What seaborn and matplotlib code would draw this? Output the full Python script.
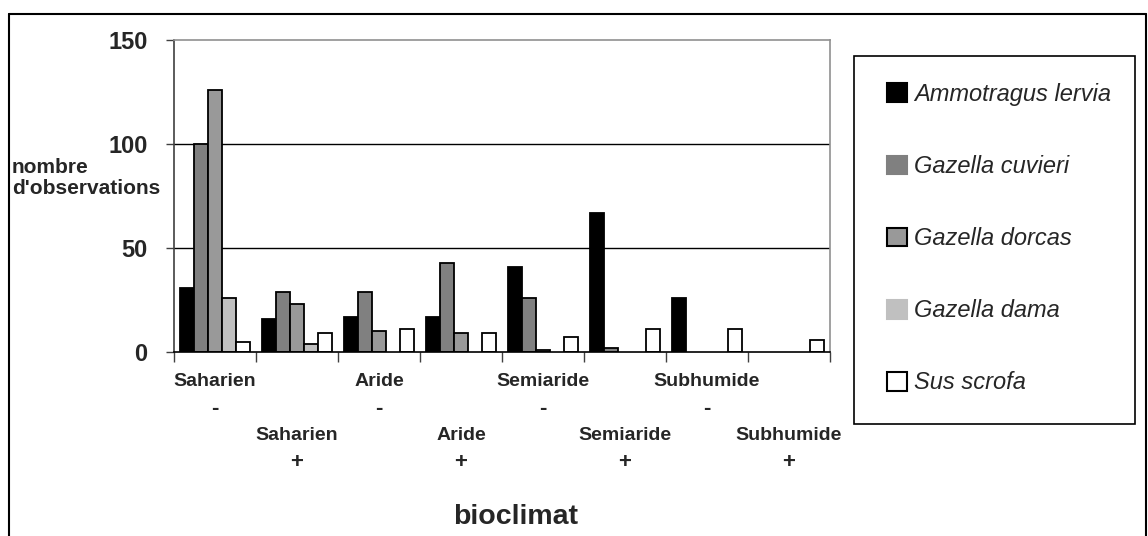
import numpy as np
import pandas as pd
import matplotlib
matplotlib.use("Agg")
import matplotlib.pyplot as plt
import matplotlib.transforms as mtransforms
from matplotlib.patches import Rectangle
from matplotlib.lines import Line2D
import seaborn as sns

categories = ["Saharien -", "Saharien +", "Aride -", "Aride +",
              "Semiaride -", "Semiaride +", "Subhumide -", "Subhumide +"]
tick_names = ["Saharien", "Saharien", "Aride", "Aride",
              "Semiaride", "Semiaride", "Subhumide", "Subhumide"]
tick_signs = ["-", "+", "-", "+", "-", "+", "-", "+"]
species = ["Ammotragus lervia", "Gazella cuvieri", "Gazella dorcas",
           "Gazella dama", "Sus scrofa"]
ammotragus = [31, 16, 17, 17, 41, 67, 26, 0]
cuvieri = [100, 29, 29, 43, 26, 2, 0, 0]
dorcas = [126, 23, 10, 9, 1, 0, 0, 0]
dama = [26, 4, 0, 0, 0, 0, 0, 0]
sus = [5, 9, 11, 9, 7, 11, 11, 6]

colors = ["#000000", "#808080", "#999999", "#c0c0c0", "#ffffff"]

rows = []
for sp, vals in zip(species, [ammotragus, cuvieri, dorcas, dama, sus]):
    for cat, v in zip(categories, vals):
        rows.append({"bioclimat": cat, "espece": sp, "n": v})
df = pd.DataFrame(rows)

sns.set_style("white")
plt.rcParams["font.family"] = ["Liberation Sans", "DejaVu Sans"]

W, H = 1148, 536
fig = plt.figure(figsize=(W / 100, H / 100), dpi=100)
ax = fig.add_axes([174 / W, 1 - 352 / H, 656 / W, 312 / H])

sns.barplot(data=df, x="bioclimat", y="n", hue="espece", order=categories,
            hue_order=species, palette=colors, width=0.85, saturation=1,
            legend=False, ax=ax)

for cont in ax.containers:
    for p in cont:
        if p.get_height() == 0:
            p.set_linewidth(0)
        else:
            p.set_edgecolor("black")
            p.set_linewidth(1.3)

ax.set_ylim(0, 150)
ax.set_xlim(-0.5, len(categories) - 0.5)
ax.set_yticks([0, 50, 100, 150])
ax.set_yticklabels(["0", "50", "100", "150"], fontsize=17, fontweight="bold")
ax.tick_params(axis="y", length=6, width=1, color="#404040", pad=13, left=True)
for y in [50, 100]:
    ax.axhline(y, color="black", lw=1, zorder=0)

# category labels on two staggered rows
ax.set_xticks(np.arange(len(categories)))
ax.set_xticklabels([""] * len(categories))
ax.set_xticks(np.arange(len(categories) + 1) - 0.5, minor=True)
ax.tick_params(axis="x", which="major", length=0)
ax.tick_params(axis="x", which="minor", length=7, width=1, color="#404040", bottom=True)
trans = mtransforms.blended_transform_factory(ax.transData, fig.transFigure)
for i, (name, sign) in enumerate(zip(tick_names, tick_signs)):
    y_name, y_sign = (381, 408) if i % 2 == 0 else (435, 463)
    ax.text(i, 1 - y_name / H, name, transform=trans, ha="center", va="center",
            fontsize=14, fontweight="bold")
    ax.text(i, 1 - y_sign / H, sign, transform=trans, ha="center", va="center",
            fontsize=16, fontweight="bold")
ax.set_xlabel("")
ax.set_ylabel("")

ax.spines["top"].set_color("#909090")
ax.spines["right"].set_color("#909090")
ax.spines["left"].set_color("#404040")
ax.spines["bottom"].set_color("black")
for s in ax.spines.values():
    s.set_linewidth(1.2)

fig.text(12 / W, 1 - 178 / H, "nombre\nd'observations", ha="left", va="center",
         fontsize=15, fontweight="bold", linespacing=1.1)
fig.text(516 / W, 1 - 517 / H, "bioclimat", ha="center", va="center",
         fontsize=20.5, fontweight="bold")

# outer frame
fig.add_artist(Line2D([9 / W, 9 / W], [0, 1 - 14 / H], transform=fig.transFigure, color="black", lw=1.5))
fig.add_artist(Line2D([9 / W, 1146 / W], [1 - 14 / H, 1 - 14 / H], transform=fig.transFigure, color="black", lw=1.5))
fig.add_artist(Line2D([1146 / W, 1146 / W], [0, 1 - 14 / H], transform=fig.transFigure, color="black", lw=1.5))

# legend box
fig.add_artist(Rectangle((854 / W, 1 - 424 / H), 281 / W, 368 / H, transform=fig.transFigure,
                         fill=False, edgecolor="black", lw=1.2))
edge = ["#000000", "#808080", "#000000", "#c0c0c0", "#000000"]
handles = [Rectangle((0, 0), 1, 1, facecolor=c, edgecolor=e, lw=1.5) for c, e in zip(colors, edge)]
leg = fig.legend(handles, species, loc="upper left", bbox_to_anchor=(887 / W, 1 - 83 / H),
                 frameon=False, prop={"style": "italic", "size": 17},
                 handlelength=0.85, handleheight=0.85, handletextpad=0.3,
                 labelspacing=2.08, borderpad=0, borderaxespad=0)

fig.savefig("out.png", dpi=100)
